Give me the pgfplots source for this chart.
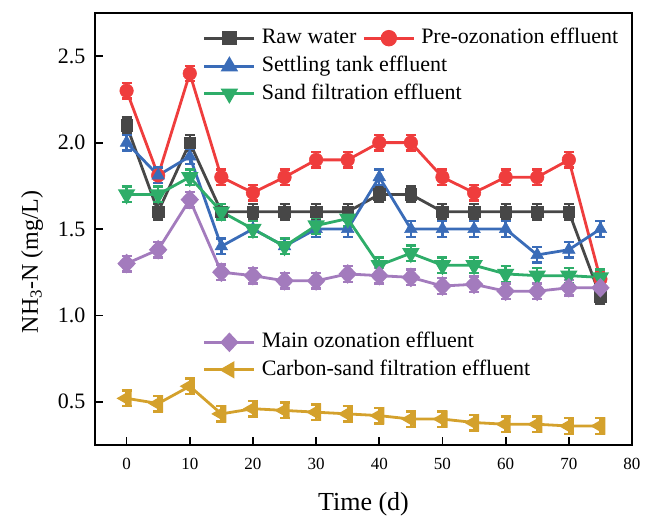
\documentclass[border=0pt]{standalone}
\usepackage{fontspec}
\setmainfont{Liberation Serif}
\usepackage{pgfplots}
\usepackage{pgfplotstable}
\pgfplotsset{compat=1.18}
\definecolor{cgray}{HTML}{474747}
\definecolor{cred}{HTML}{EF3D3D}
\definecolor{cblue}{HTML}{3A6CB8}
\definecolor{cgreen}{HTML}{2EAD69}
\definecolor{cpurple}{HTML}{A37BBD}
\definecolor{cgold}{HTML}{D4A12C}

\pgfplotstableread{
t  raw   pre   set   sand  main  carb
0  2.10  2.30  2.00  1.70  1.30  0.52
5  1.60  1.81  1.81  1.70  1.38  0.49
10 2.00  2.40  1.92  1.80  1.67  0.59
15 1.60  1.80  1.40  1.60  1.25  0.43
20 1.60  1.71  1.50  1.50  1.23  0.46
25 1.60  1.80  1.40  1.40  1.20  0.45
30 1.60  1.90  1.50  1.52  1.20  0.44
35 1.60  1.90  1.50  1.56  1.24  0.43
40 1.70  2.00  1.80  1.29  1.23  0.42
45 1.70  2.00  1.50  1.36  1.22  0.40
50 1.60  1.80  1.50  1.29  1.17  0.40
55 1.60  1.71  1.50  1.29  1.18  0.38
60 1.60  1.80  1.50  1.24  1.14  0.37
65 1.60  1.80  1.35  1.23  1.14  0.37
70 1.60  1.90  1.38  1.23  1.16  0.36
75 1.11  1.21  1.50  1.22  1.16  0.36
}\data

\pgfplotsset{
  base/.style={
    scale only axis, width=537pt, height=432pt,
    at={(0,0)}, anchor=south west,
    xmin=-5, xmax=80, ymin=0.25, ymax=2.75,
  },
  ser/.style={
    color=#1, line width=2.8pt, mark options={solid, fill=#1, draw=#1, line width=0.5pt},
    error bars/y dir=both, error bars/y fixed=0.045,
    error bars/error bar style={line width=2.4pt, color=#1},
    error bars/error mark options={rotate=90, mark size=5pt, line width=2.4pt, color=#1},
  },
  myleg/.style={
    legend style={draw=none, fill=none, inner sep=0pt, outer sep=0pt,
      font=\rmfamily\fontsize{22}{26}\selectfont,
      row sep=6.5pt,
      nodes={inner sep=0pt, text height=16pt, text depth=5pt},
      /tikz/every even column/.append style={column sep=6pt},
      /tikz/every odd column/.append style={column sep=6pt},
    },
    legend cell align=left,
    legend image code/.code={\draw[mark repeat=2, mark phase=2, ##1] plot coordinates {(0pt,0pt) (25pt,0pt) (50pt,0pt)};},
  },
}

\begin{document}
\begin{tikzpicture}
\begin{axis}[base,
  axis line style={line width=2.2pt, black},
  tick align=inside, tick pos=left,
  major tick length=8pt,
  tick style={line width=1.8pt, black},
  xtick={0,10,...,80}, ytick={0.5,1.0,...,2.5},
  /pgf/number format/assume math mode=true,
  yticklabel style={/pgf/number format/.cd, fixed, fixed zerofill, precision=1, /tikz/.cd, font=\rmfamily\fontsize{22}{25}\selectfont, xshift=-6pt},
  xticklabel style={font=\rmfamily\fontsize{17}{20}\selectfont, yshift=-10pt},
  xlabel={Time (d)}, ylabel={NH\textsubscript{3}-N (mg/L)},
  xlabel style={font=\rmfamily\fontsize{26}{30}\selectfont, at={(axis description cs:0.5,-0.136)}, anchor=center},
  ylabel style={font=\rmfamily\fontsize{24}{28}\selectfont, at={(axis description cs:-0.117,0.424)}, anchor=center},
  myleg, legend columns=-1,
  legend style={at={(axis description cs:0.2011,0.966)}, anchor=north west},
]
\addplot+[ser=cgray, mark=square*, mark size=5.8pt, forget plot] table[x=t, y=raw] {\data};
\addplot+[ser=cred, mark=*, mark size=6.8pt, forget plot] table[x=t, y=pre] {\data};
\addplot+[ser=cblue, mark=triangle*, mark size=7.3pt, forget plot] table[x=t, y=set] {\data};
\addplot+[ser=cgreen, mark=triangle*, mark size=7.3pt, mark options={rotate=180}, forget plot] table[x=t, y=sand] {\data};
\addplot+[ser=cpurple, mark=diamond*, mark size=7.8pt, mark options={xscale=1.25}, forget plot] table[x=t, y=main] {\data};
\addplot+[ser=cgold, mark=triangle*, mark size=7.3pt, mark options={rotate=90}, forget plot] table[x=t, y=carb] {\data};
\addlegendimage{cgray, line width=2.8pt, mark=square*, mark size=5.8pt, mark options={fill=cgray}}
\addlegendentry{Raw water}
\addlegendimage{cred, line width=2.8pt, mark=*, mark size=6.8pt, mark options={fill=cred}}
\addlegendentry{Pre-ozonation effluent}
\end{axis}
\begin{axis}[base, hide axis, myleg,
  legend style={at={(axis description cs:0.2011,0.901)}, anchor=north west}]
\addlegendimage{cblue, line width=2.8pt, mark=triangle*, mark size=7.3pt, mark options={fill=cblue}}
\addlegendentry{Settling tank effluent}
\addlegendimage{cgreen, line width=2.8pt, mark=triangle*, mark size=7.3pt, mark options={fill=cgreen, rotate=180}}
\addlegendentry{Sand filtration effluent}
\end{axis}
\begin{axis}[base, hide axis, myleg,
  legend style={at={(axis description cs:0.2011,0.262)}, anchor=north west}]
\addlegendimage{cpurple, line width=2.8pt, mark=diamond*, mark size=7.8pt, mark options={fill=cpurple, xscale=1.25}}
\addlegendentry{Main ozonation effluent}
\addlegendimage{cgold, line width=2.8pt, mark=triangle*, mark size=7.3pt, mark options={fill=cgold, rotate=90}}
\addlegendentry{Carbon-sand filtration effluent}
\end{axis}
\pgfresetboundingbox
\useasboundingbox (-95pt,-70pt) rectangle (556pt,445pt);
\end{tikzpicture}
\end{document}
